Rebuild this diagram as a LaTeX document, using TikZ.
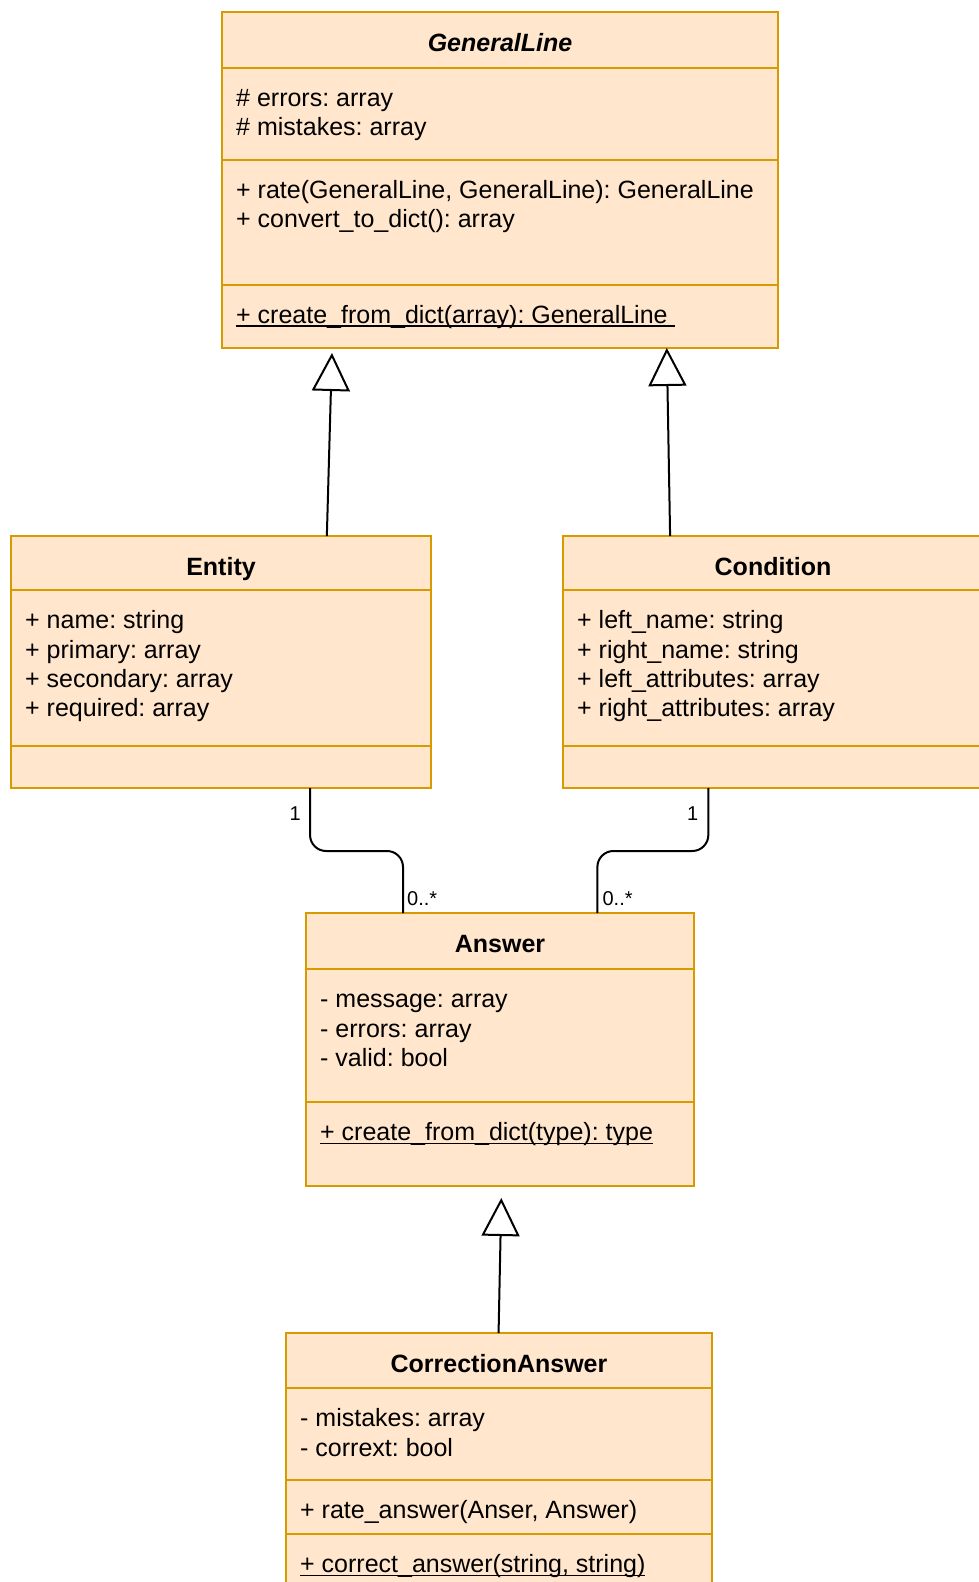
\documentclass[tikz,border=0pt]{standalone}
\usepackage{fontspec}
\setmainfont{Liberation Sans}
\usetikzlibrary{arrows.meta,calc}
\definecolor{umlfill}{HTML}{FFE6CC}
\definecolor{umlline}{HTML}{D79B00}
\newcommand{\ulined}[1]{\setbox0\hbox{#1}\rlap{\rule[-3.5pt]{\wd0}{1.6pt}}\box0}
\frenchspacing
\tikzset{
  compart/.style={draw=umlline, fill=umlfill, line width=2pt, anchor=north west,
    inner sep=0pt, outer sep=0pt, minimum width=#1pt},
  classname/.style={font=\bfseries\fontsize{25}{29.3}\selectfont, inner sep=0pt, anchor=base},
  members/.style={anchor=north west, align=left, inner sep=0pt,
    font=\fontsize{25}{29.3}\selectfont},
  mult/.style={font=\fontsize{20}{24}\selectfont, inner sep=0pt},
  inherit/.style={-{Triangle[open, length=38pt, width=38pt]}, line width=2pt},
  assoc/.style={line width=2pt, rounded corners=16pt}
}
\begin{document}
\begin{tikzpicture}[x=1pt, y=-1pt]
\useasboundingbox (0,0) rectangle (978,1582);

% GeneralLine
\node[compart=556, minimum height=55.6pt] (gl) at (222,12) {};
\node[compart=556, minimum height=91.9pt] (glattr) at (gl.south west) {};
\node[compart=556, minimum height=125.1pt] (glops) at (glattr.south west) {};
\node[compart=556, minimum height=63.4pt] (glstat) at (glops.south west) {};
\node[classname] (gltitle) at ($(gl.north)+(0,39)$) {\itshape GeneralLine};
\node[members] (glattrtxt) at ($(glattr.north west)+(14,18)$) {\strut\# errors: array\\\# mistakes: array};
\node[members] (glopstxt) at ($(glops.north west)+(14,18)$) {\strut+ rate(GeneralLine, GeneralLine): GeneralLine\\+ convert\_to\_dict(): array};
\node[members] (glstattxt) at ($(glstat.north west)+(14,18)$) {\strut\ulined{+ create\_from\_dict(array): GeneralLine\ }};

% Entity
\node[compart=420, minimum height=54pt] (en) at (11,536) {};
\node[compart=420, minimum height=156pt] (enattr) at (en.south west) {};
\node[compart=420, minimum height=42pt] (enops) at (enattr.south west) {};
\node[classname] (entitle) at ($(en.north)+(0,39)$) {Entity};
\node[members] (enattrtxt) at ($(enattr.north west)+(14,18)$) {\strut+ name: string\\+ primary: array\\+ secondary: array\\+ required: array};

% Condition
\node[compart=420, minimum height=54pt] (co) at (563,536) {};
\node[compart=420, minimum height=156pt] (coattr) at (co.south west) {};
\node[compart=420, minimum height=42pt] (coops) at (coattr.south west) {};
\node[classname] (cotitle) at ($(co.north)+(0,39)$) {Condition};
\node[members] (coattrtxt) at ($(coattr.north west)+(14,18)$) {\strut+ left\_name: string\\+ right\_name: string\\+ left\_attributes: array\\+ right\_attributes: array};

% Answer
\node[compart=388, minimum height=56pt] (an) at (306,913) {};
\node[compart=388, minimum height=133pt] (anattr) at (an.south west) {};
\node[compart=388, minimum height=84pt] (anstat) at (anattr.south west) {};
\node[classname] (antitle) at ($(an.north)+(0,39)$) {Answer};
\node[members] (anattrtxt) at ($(anattr.north west)+(14,18)$) {\strut- message: array\\- errors: array\\- valid: bool};
\node[members] (anstattxt) at ($(anstat.north west)+(14,18)$) {\strut\ulined{+ create\_from\_dict(type): type}};

% CorrectionAnswer
\node[compart=426, minimum height=55pt] (ca) at (286,1333) {};
\node[compart=426, minimum height=92pt] (caattr) at (ca.south west) {};
\node[compart=426, minimum height=54pt] (caops) at (caattr.south west) {};
\node[compart=426, minimum height=70pt] (castat) at (caops.south west) {};
\node[classname] (catitle) at ($(ca.north)+(0,39)$) {CorrectionAnswer};
\node[members] (caattrtxt) at ($(caattr.north west)+(14,18)$) {\strut- mistakes: array\\- corrext: bool};
\node[members] (caopstxt) at ($(caops.north west)+(14,18)$) {\strut+ rate\_answer(Anser, Answer)};
\node[members] (castattxt) at ($(castat.north west)+(14,18)$) {\strut\ulined{+ correct\_answer(string, string)}};

% inheritance
\draw[inherit, shorten >=5pt] ($(en.north west)!0.752!(en.north east)$) -- ($(glstat.south west)!0.198!(glstat.south east)$);
\draw[inherit] ($(co.north west)!0.255!(co.north east)$) -- ($(glstat.south west)!0.8!(glstat.south east)$);
\draw[inherit, shorten >=12pt] ($(ca.north west)!0.499!(ca.north east)$) -- ($(anstat.south west)!0.504!(anstat.south east)$);

% associations
\coordinate (enfoot) at ($(enops.south west)!0.712!(enops.south east)$);
\coordinate (cofoot) at ($(coops.south west)!0.346!(coops.south east)$);
\coordinate (anleft) at ($(an.north west)!0.25!(an.north east)$);
\coordinate (anright) at ($(an.north west)!0.751!(an.north east)$);
\coordinate (bus) at (0,851);
\draw[assoc] (enfoot) -- (enfoot |- bus) -- (anleft |- bus) -- (anleft);
\draw[assoc] (cofoot) -- (cofoot |- bus) -- (anright |- bus) -- (anright);
\node[mult, anchor=base east] (enmult) at ($(enfoot)+(-9,32)$) {1};
\node[mult, anchor=base west] (anleftmult) at ($(anleft)+(4,-8)$) {0..*};
\node[mult, anchor=base east] (comult) at ($(cofoot)+(-10,32)$) {1};
\node[mult, anchor=base west] (anrightmult) at ($(anright)+(5,-8)$) {0..*};
\end{tikzpicture}
\end{document}
